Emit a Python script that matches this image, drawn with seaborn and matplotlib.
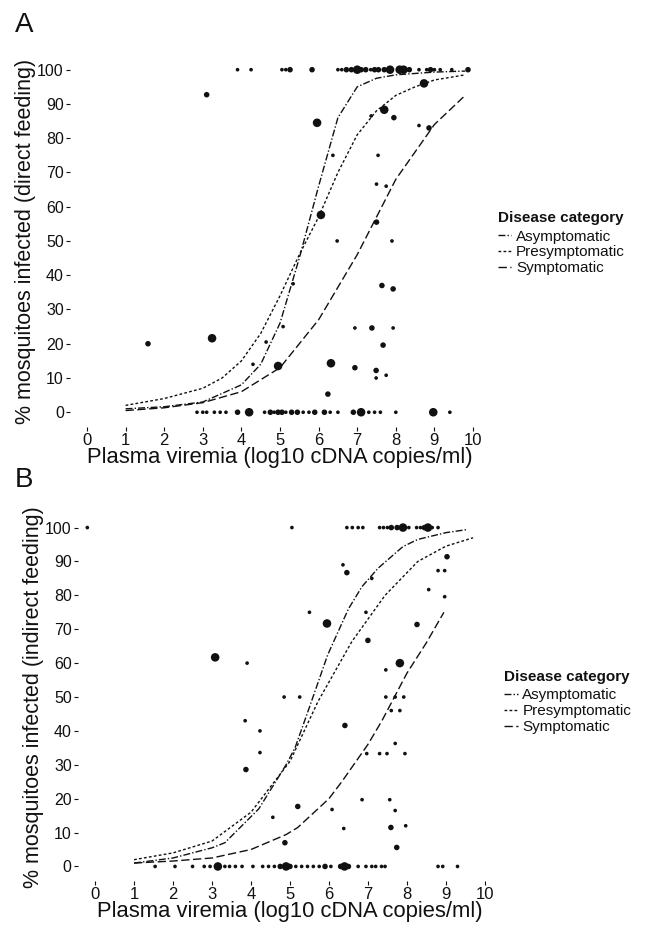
import matplotlib
matplotlib.use("Agg")
import matplotlib.pyplot as plt
import seaborn as sns
import pandas as pd
from matplotlib.lines import Line2D

sns.set_theme(style="white")
plt.rcParams['font.family'] = ['Liberation Sans', 'DejaVu Sans']

categories = ["Asymptomatic", "Presymptomatic", "Symptomatic"]
ticks_x = list(range(0, 11))
ticks_y = list(range(0, 101, 10))

# ---------------- Panel A: points (x, y, size class 1/2/3) ----------------
a_x = [3.9, 4.25, 5.05, 5.15, 5.26, 5.83, 6.5, 6.6, 6.72, 6.85, 7.0, 7.1, 7.22, 7.35, 7.45, 7.55, 7.7, 7.85, 8.1, 8.2, 8.35, 8.6, 8.8, 8.9, 9.0, 9.15, 9.45, 9.87,
       3.1, 5.96, 7.7, 7.95, 7.36, 8.73, 8.86, 8.6, 6.37, 7.54, 7.5, 7.75, 6.06, 7.5, 6.48, 7.9, 5.34, 7.64, 7.93, 5.08, 6.94, 7.38, 7.93,
       1.58, 3.24, 4.64, 7.67, 4.3, 4.95, 6.32, 6.94, 7.49, 7.75, 7.49, 6.24,
       2.85, 3.0, 3.1, 3.3, 3.45, 3.6, 3.9, 4.2, 4.6, 4.75, 4.85, 4.95, 5.05, 5.15, 5.3, 5.45, 5.6, 5.75, 5.9, 6.15, 6.3, 6.5, 6.9, 7.1, 7.3, 7.45, 7.6, 8.0, 8.97, 9.4]
a_y = [100] * 28 + \
      [92.7, 84.5, 88.3, 86, 86.5, 96, 83, 83.7, 75, 75, 66.6, 66, 57.6, 55.5, 50, 50, 37.5, 37, 36, 25, 24.6, 24.6, 24.6,
       20, 21.6, 20.5, 19.6, 14, 13.5, 14.3, 13, 12.2, 10.8, 10, 5.3] + [0] * 30
a_n = [1, 1, 1, 1, 2, 2, 1, 1, 2, 2, 3, 2, 2, 1, 2, 2, 2, 3, 3, 3, 2, 1, 1, 2, 1, 1, 1, 2,
       2, 3, 3, 2, 1, 3, 2, 1, 1, 1, 1, 1, 3, 2, 1, 1, 1, 2, 2, 1, 1, 2, 1,
       2, 3, 1, 2, 1, 3, 3, 2, 2, 1, 1, 2,
       1, 1, 1, 1, 1, 1, 2, 3, 1, 2, 1, 2, 2, 1, 2, 2, 1, 1, 2, 2, 1, 1, 2, 3, 1, 1, 1, 1, 3, 1]

# ---------------- Panel A: fitted curves ----------------
a_asym_x = [1, 2, 3, 4, 4.5, 5, 5.5, 6, 6.5, 7, 7.5, 8, 9, 9.8]
a_asym_y = [1, 1.6, 3, 8, 14, 26, 45, 66, 86, 95, 97.5, 98.5, 99.3, 99.6]
a_pre_x = [1, 2, 3, 3.5, 4, 4.5, 5, 5.5, 6, 6.5, 7, 7.5, 8, 8.5, 9, 9.8]
a_pre_y = [2, 4, 7, 10, 15, 23, 34, 46, 57, 70, 81, 88, 92.5, 95, 97, 98.5]
a_sym_x = [1, 2, 3, 4, 5, 6, 7, 8, 9, 9.75]
a_sym_y = [0.5, 1.3, 2.8, 6, 13, 27, 46, 68, 84, 92]

# ---------------- Panel B: points ----------------
b_x = [-0.2, 5.05, 6.46, 6.6, 6.75, 6.87, 7.3, 7.4, 7.5, 7.6, 7.75, 7.9, 8.05, 8.25, 8.35, 8.45, 8.54, 8.65, 8.8,
       6.36, 6.46, 7.1, 9.03, 8.8, 8.97, 8.56, 8.97, 5.5, 5.95, 6.95, 8.26, 7.0, 3.08, 3.9, 7.82, 7.46,
       4.85, 5.25, 7.46, 7.7, 7.92, 7.6, 7.82, 3.85, 6.41, 4.23, 7.7, 4.23, 6.97, 7.3, 7.49, 7.95, 3.87,
       6.85, 7.56, 5.2, 6.08, 7.7, 4.56, 6.38, 7.59, 7.97, 4.87, 7.74,
       1.54, 2.05, 2.5, 2.8, 2.95, 3.15, 3.33, 3.45, 3.6, 3.77, 4.05, 4.3, 4.45, 4.6, 4.75, 4.9, 5.0, 5.15, 5.3, 5.45,
       5.6, 5.75, 5.9, 6.05, 6.3, 6.4, 6.5, 6.75, 6.95, 7.1, 7.2, 7.35, 7.44, 8.8, 8.92, 9.3]
b_y = [100] * 19 + \
      [89, 86.7, 85, 91.4, 87.3, 87.3, 81.7, 79.6, 75, 71.7, 75, 71.4, 66.7, 61.7, 60, 60, 58,
       50, 50, 50, 50, 50, 46, 46, 43, 41.6, 40, 36.3, 33.6, 33.3, 33.3, 33.3, 33.3, 28.6,
       19.7, 19.7, 17.7, 16.8, 16.5, 14.5, 11.2, 11.5, 12, 7, 5.6] + [0] * 36
b_n = [1, 1, 1, 1, 1, 1, 1, 1, 1, 2, 2, 3, 1, 1, 1, 2, 3, 1, 1,
       1, 2, 1, 2, 1, 1, 1, 1, 1, 3, 1, 2, 2, 3, 1, 3, 1,
       1, 1, 1, 1, 1, 1, 1, 1, 2, 1, 1, 1, 1, 1, 1, 1, 2,
       1, 1, 2, 1, 1, 1, 1, 2, 1, 2, 2,
       1, 1, 1, 1, 1, 3, 1, 1, 1, 1, 1, 1, 1, 1, 2, 3, 2, 1, 1, 1,
       1, 1, 2, 1, 2, 3, 2, 1, 1, 1, 1, 1, 1, 1, 1, 1]

# ---------------- Panel B: fitted curves ----------------
b_asym_x = [1, 2, 3, 3.33, 4.2, 4.9, 5.13, 5.5, 5.97, 6.5, 6.85, 7.26, 7.9, 8.28, 9, 9.54]
b_asym_y = [1, 2.5, 5.5, 7, 17, 30, 35, 47, 62.5, 76, 82.6, 88, 94.4, 96.5, 98.5, 99.4]
b_pre_x = [1, 2, 3, 4, 5, 5.72, 6.59, 7.44, 8.28, 9, 9.7]
b_pre_y = [2, 4, 7.5, 16, 31, 48.7, 66.4, 80, 90, 94.5, 97]
b_sym_x = [1, 2, 3, 4, 4.9, 5.2, 6, 6.33, 7, 7.36, 8, 8.5, 8.95]
b_sym_y = [1, 1.6, 2.5, 5, 9.4, 11.5, 20, 25, 36, 43, 57, 66, 75]

dashes = {"Asymptomatic": (5, 1.5, 1, 1.5),
          "Presymptomatic": (2, 1.6),
          "Symptomatic": (6, 2.5)}
size_map = {1: 7, 2: 16, 3: 38}
ink = "#111111"


def curve_frame(xs, ys):
    rows = []
    for cat, x, y in zip(categories, xs, ys):
        rows.append(pd.DataFrame({"x": x, "y": y, "cat": cat}))
    return pd.concat(rows, ignore_index=True)


fig = plt.figure(figsize=(6.53, 9.27), dpi=100)
axA = fig.add_axes([0.1072, 0.5394, 0.6432, 0.4002])
axB = fig.add_axes([0.1194, 0.0496, 0.6493, 0.3959])

panels = [
    (axA, a_x, a_y, a_n, [a_asym_x, a_pre_x, a_sym_x], [a_asym_y, a_pre_y, a_sym_y],
     "% mosquitoes infected (direct feeding)", "A", (0.762, 0.772)),
    (axB, b_x, b_y, b_n, [b_asym_x, b_pre_x, b_sym_x], [b_asym_y, b_pre_y, b_sym_y],
     "% mosquitoes infected (indirect feeding)", "B", (0.772, 0.277)),
]

for ax, px, py, pn, cx, cy, ylab, tag, legpos in panels:
    pts = pd.DataFrame({"x": px, "y": py, "n": pn})
    sns.scatterplot(data=pts, x="x", y="y", size="n", sizes=size_map,
                    color=ink, edgecolor="none", legend=False, ax=ax)
    cdf = curve_frame(cx, cy)
    sns.lineplot(data=cdf, x="x", y="y", style="cat", dashes=dashes,
                 color=ink, linewidth=1.0, legend=False, ax=ax, estimator=None, sort=False)
    ax.set_xlim(-0.44, 10.44)
    ax.set_ylim(-4.3, 104)
    ax.set_xticks(ticks_x)
    ax.set_yticks(ticks_y)
    ax.set_xticklabels([str(t) for t in ticks_x], fontsize=12)
    ax.set_yticklabels([str(t) for t in ticks_y], fontsize=11.5)
    ax.tick_params(axis="both", direction="out", length=3, width=0.8, color=ink,
                   bottom=True, left=True, pad=1.5, labelcolor=ink)
    for sp in ax.spines.values():
        sp.set_visible(False)
    ax.set_xlabel("Plasma viremia (log10 cDNA copies/ml)", fontsize=15.8, color=ink, labelpad=-1)
    ax.set_ylabel(ylab, fontsize=15.5, color=ink, labelpad=1)
    ax.set_facecolor("white")
    ax.grid(False)
    handles = [Line2D([0], [0], color=ink, lw=1.0, dashes=dashes[c]) for c in categories]
    leg = fig.legend(handles, categories, title="Disease category", loc="upper left",
                     bbox_to_anchor=legpos, frameon=False, fontsize=11,
                     title_fontproperties={"weight": "bold", "size": 11},
                     handlelength=0.9, handletextpad=0.3, labelspacing=0.12,
                     alignment="left", borderaxespad=0, borderpad=0)
    leg._legend_box.sep = 3
    for t in leg.get_texts():
        t.set_color(ink)
    leg.get_title().set_color(ink)

fig.text(0.023, 0.973, "A", fontsize=20, color=ink, va="center", ha="left")
fig.text(0.023, 0.482, "B", fontsize=20, color=ink, va="center", ha="left")

fig.savefig("out.png", dpi=100, facecolor="white")
